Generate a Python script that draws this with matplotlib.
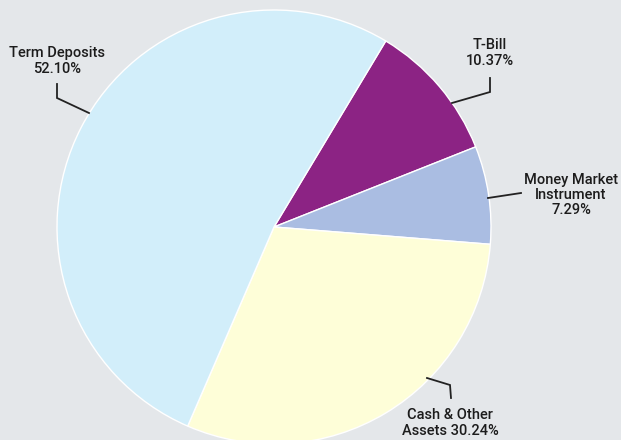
import matplotlib.pyplot as plt

# Data
labels = ["T-Bill", "Money Market\nInstrument", "Cash & Other\nAssets", "Term Deposits"]
shares = [10.37, 7.29, 30.24, 52.10]
colors = ["#8c2384", "#aabde2", "#fefed8", "#d2eefa"]

W, H = 621, 440
bg = "#e4e7ea"

fig = plt.figure(figsize=(W / 100, H / 100), dpi=100, facecolor=bg)
ax = fig.add_axes([0, 0, 1, 1])
ax.set_facecolor(bg)

cx, cy, r = 274, H - 227, 217
ax.pie(shares, colors=colors, startangle=59, counterclock=False,
       center=(cx, cy), radius=r, frame=True,
       wedgeprops=dict(edgecolor="white", linewidth=1))
ax.set_xlim(0, W)
ax.set_ylim(0, H)
ax.set_aspect("equal")
ax.axis("off")

font = dict(family=["Roboto", "Liberation Sans", "DejaVu Sans"], fontsize=10.5,
            fontweight="medium", color="#1c1c1c", ha="center", va="center",
            linespacing=1.1)

# label text (pixel coords from top), leader polyline
texts = [
    (labels[0] + "\n%.2f%%" % shares[0], (490, 53), [(452, 103), (490, 92), (490, 78)]),
    (labels[1] + "\n%.2f%%" % shares[1], (571, 195), [(488, 198), (521, 193)]),
    (labels[2] + " %.2f%%" % shares[2], (450, 423), [(427, 378), (450, 385), (451, 398)]),
    (labels[3] + "\n%.2f%%" % shares[3], (57, 61), [(89, 113), (57, 98), (57, 84)]),
]
for txt, (tx, ty), pts in texts:
    ax.text(tx, H - ty, txt, **font)
    xs = [p[0] for p in pts]
    ys = [H - p[1] for p in pts]
    ax.plot(xs, ys, color="#222222", lw=1.3, solid_joinstyle="miter")

plt.savefig("out.png", dpi=100, facecolor=bg)
